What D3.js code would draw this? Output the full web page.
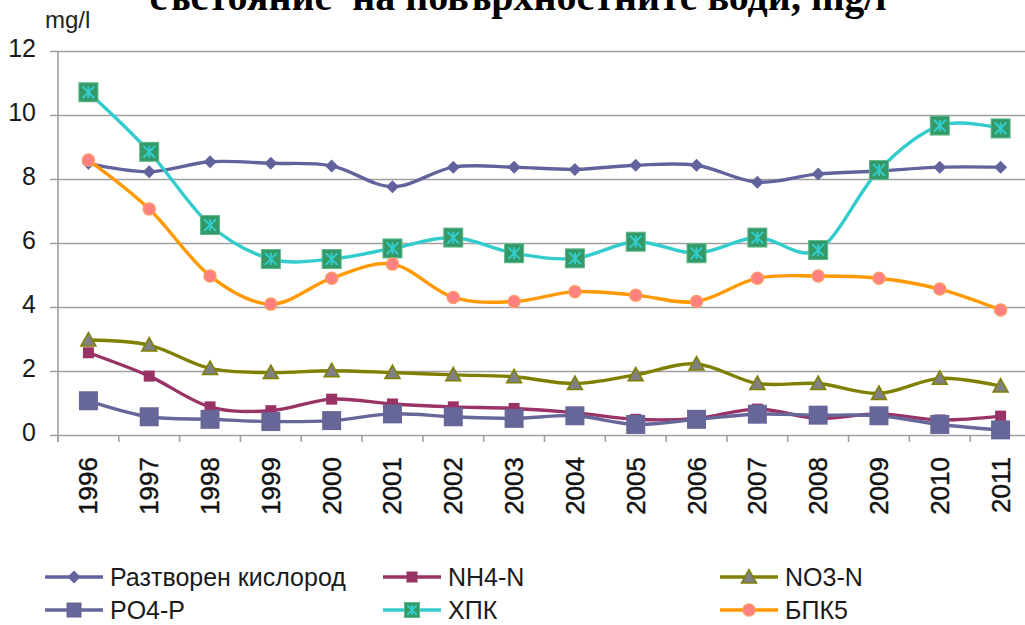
<!DOCTYPE html>
<html>
<head>
<meta charset="utf-8">
<script src="https://cdn.jsdelivr.net/npm/d3@7"></script>
<style>
  html, body { margin: 0; padding: 0; background: #fff; }
  svg { display: block; font-family: "Liberation Sans", Arial, sans-serif; }
</style>
</head>
<body>
<svg id="chart" width="1025" height="625"></svg>
<script>
const years = ["1996", "1997", "1998", "1999", "2000", "2001", "2002", "2003",
  "2004", "2005", "2006", "2007", "2008", "2009", "2010", "2011"];

const oxygen = [8.49, 8.23, 8.54, 8.49, 8.41, 7.76, 8.37, 8.37, 8.30, 8.43, 8.43, 7.90, 8.16, 8.25, 8.37, 8.37];
const nh4 = [2.57, 1.84, 0.88, 0.76, 1.12, 0.97, 0.88, 0.83, 0.70, 0.49, 0.52, 0.81, 0.52, 0.66, 0.47, 0.59];
const no3 = [2.97, 2.81, 2.08, 1.95, 2.01, 1.95, 1.88, 1.82, 1.61, 1.88, 2.22, 1.61, 1.61, 1.30, 1.77, 1.53];
const po4 = [1.07, 0.57, 0.49, 0.42, 0.45, 0.66, 0.57, 0.52, 0.60, 0.33, 0.49, 0.65, 0.62, 0.60, 0.33, 0.16];
const hpk = [10.71, 8.85, 6.56, 5.50, 5.50, 5.83, 6.17, 5.68, 5.52, 6.04, 5.68, 6.17, 5.78, 8.28, 9.67, 9.58];
const bpk5 = [8.59, 7.06, 4.97, 4.09, 4.90, 5.34, 4.30, 4.17, 4.48, 4.37, 4.17, 4.90, 4.97, 4.90, 4.56, 3.91];

const seriesNames = ["Разтворен кислород", "NH4-N", "NO3-N", "PO4-P", "ХПК", "БПК5"];
const yTicks = [0, 2, 4, 6, 8, 10, 12];
const titleText = "състояние  на повърхностните води, mg/l";
const unitText = "mg/l";

const series = [
  { name: seriesNames[0], values: oxygen, line: "#62629c", marker: "diamond", fill: "#62629c", stroke: "#62629c", size: 13 },
  { name: seriesNames[1], values: nh4, line: "#993366", marker: "square", fill: "#993366", stroke: "#993366", size: 11 },
  { name: seriesNames[2], values: no3, line: "#808000", marker: "triangle", fill: "#808080", stroke: "#808000", size: 15 },
  { name: seriesNames[3], values: po4, line: "#666699", marker: "square", fill: "#666699", stroke: "#666699", size: 19 },
  { name: seriesNames[4], values: hpk, line: "#33cccc", marker: "star", fill: "#339966", stroke: "#5fb88a", size: 19 },
  { name: seriesNames[5], values: bpk5, line: "#ff9900", marker: "circle", fill: "#ff8080", stroke: "#ff9966", size: 13 }
];

const svg = d3.select("#chart");
const plot = { left: 58, right: 1031, top: 51, bottom: 435 };

const x = d3.scaleBand().domain(years).range([plot.left, plot.right]).padding(0);
const y = d3.scaleLinear().domain([0, 12]).range([plot.bottom, plot.top]);
const cx = (d) => x(d) + x.bandwidth() / 2;

// title: the original picture cuts off its upper half
svg.append("text")
  .attr("x", 518).attr("y", 10)
  .attr("text-anchor", "middle")
  .attr("font-family", "'Liberation Serif', 'Times New Roman', serif")
  .attr("font-weight", "bold")
  .attr("font-size", 40)
  .attr("fill", "#000")
  .attr("xml:space", "preserve")
  .text(titleText);

svg.append("text")
  .attr("x", 45).attr("y", 28)
  .attr("font-size", 24)
  .attr("fill", "#222")
  .text(unitText);

// gridlines + y axis
const yAxis = d3.axisLeft(y).tickValues(yTicks).tickSize(-(plot.right - plot.left) - 8).tickPadding(14)
  .tickFormat(d3.format("d"));
const gy = svg.append("g").attr("transform", `translate(${plot.left - 8},0)`).call(yAxis);
gy.select(".domain").remove();
gy.selectAll(".tick line").attr("stroke", "#a0a0a0").attr("stroke-width", 1.6);
gy.selectAll(".tick text").attr("font-size", 25).attr("fill", "#1a1a1a")
  .attr("font-family", "'Liberation Sans', Arial, sans-serif").attr("dy", "0.2em");

svg.append("line")
  .attr("x1", plot.left).attr("x2", plot.left)
  .attr("y1", plot.top).attr("y2", plot.bottom + 7)
  .attr("stroke", "#a0a0a0").attr("stroke-width", 1.6);

// x axis ticks at category boundaries
const boundaries = years.map((d) => x(d)).concat([plot.right]);
svg.append("g").selectAll("line").data(boundaries).join("line")
  .attr("x1", (d) => d).attr("x2", (d) => d)
  .attr("y1", plot.bottom).attr("y2", plot.bottom + 7)
  .attr("stroke", "#a0a0a0").attr("stroke-width", 1.6);

svg.append("g").selectAll("text").data(years).join("text")
  .attr("transform", (d) => `translate(${cx(d) + 9},${plot.bottom + 22}) rotate(-90)`)
  .attr("text-anchor", "end")
  .attr("font-size", 26)
  .attr("fill", "#111")
  .attr("stroke", "#111")
  .attr("stroke-width", 0.4)
  .text((d) => d);

function drawMarker(g, s, px, py) {
  const h = s.size / 2;
  if (s.marker === "diamond") {
    g.append("path").attr("d", `M${px},${py - h}L${px + h},${py}L${px},${py + h}L${px - h},${py}Z`)
      .attr("fill", s.fill);
  } else if (s.marker === "square") {
    g.append("rect").attr("x", px - h).attr("y", py - h).attr("width", s.size).attr("height", s.size)
      .attr("fill", s.fill);
  } else if (s.marker === "triangle") {
    g.append("path").attr("d", `M${px},${py - h}L${px + h},${py + h * 0.8}L${px - h},${py + h * 0.8}Z`)
      .attr("fill", s.fill).attr("stroke", s.stroke).attr("stroke-width", 1.5);
  } else if (s.marker === "star") {
    g.append("rect").attr("x", px - h).attr("y", py - h).attr("width", s.size).attr("height", s.size)
      .attr("fill", s.fill).attr("stroke", s.stroke).attr("stroke-width", 1);
    const a = h * 0.62;
    g.append("path")
      .attr("d", `M${px - a},${py - a}L${px + a},${py + a}M${px + a},${py - a}L${px - a},${py + a}M${px},${py - a}L${px},${py + a}`)
      .attr("stroke", "#33cccc").attr("stroke-width", 2).attr("fill", "none");
  } else if (s.marker === "circle") {
    g.append("circle").attr("cx", px).attr("cy", py).attr("r", h - 0.5)
      .attr("fill", s.fill).attr("stroke", s.stroke).attr("stroke-width", 1.5);
  }
}

const line = d3.line()
  .x((d, i) => cx(years[i]))
  .y((d) => y(d))
  .curve(d3.curveCardinal.tension(0));

series.forEach((s) => {
  const g = svg.append("g");
  g.append("path").datum(s.values)
    .attr("d", line)
    .attr("fill", "none")
    .attr("stroke", s.line)
    .attr("stroke-width", 3.4);
  s.values.forEach((v, i) => drawMarker(g, s, cx(years[i]), y(v)));
});

// legend
const legendCols = [45, 383, 720];
const legendRows = [577, 610];
series.forEach((s, i) => {
  const lx = legendCols[i % 3];
  const ly = legendRows[Math.floor(i / 3)];
  const g = svg.append("g");
  g.append("line").attr("x1", lx).attr("x2", lx + 58).attr("y1", ly).attr("y2", ly)
    .attr("stroke", s.line).attr("stroke-width", 3.4);
  const m = Object.assign({}, s, { size: Math.min(s.size, 15) });
  drawMarker(g, m, lx + 29, ly);
  g.append("text").attr("x", lx + 65).attr("y", ly + 9)
    .attr("font-size", 25).attr("fill", "#1a1a1a")
    .text(s.name);
});
</script>
</body>
</html>
